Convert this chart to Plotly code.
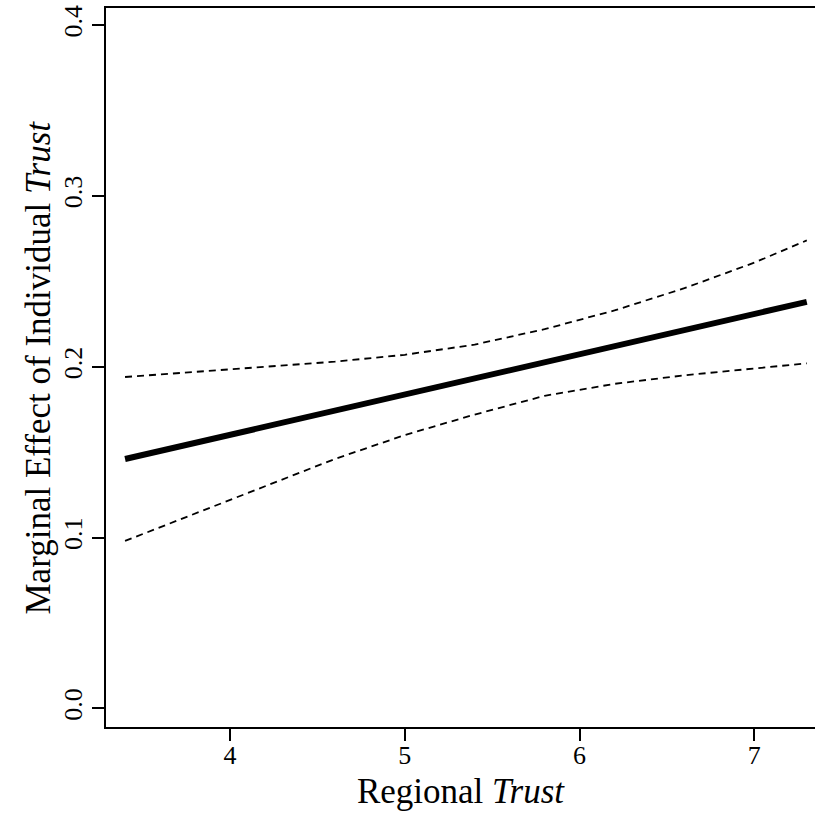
import plotly.graph_objects as go

# Data
regional_trust = [3.4, 3.8, 4.2, 4.6, 5.0, 5.4, 5.8, 6.2, 6.6, 7.0, 7.3]
marginal_effect = [0.146, 0.1554, 0.1648, 0.1743, 0.1837, 0.1932, 0.2026, 0.2120, 0.2214, 0.2309, 0.238]
upper_ci = [0.194, 0.197, 0.200, 0.203, 0.207, 0.213, 0.222, 0.233, 0.246, 0.261, 0.274]
lower_ci = [0.098, 0.114, 0.130, 0.146, 0.160, 0.172, 0.183, 0.190, 0.195, 0.199, 0.202]

x_ticks = [4, 5, 6, 7]
y_ticks = [0.0, 0.1, 0.2, 0.3, 0.4]
y_tick_labels = ["0.0", "0.1", "0.2", "0.3", "0.4"]

x_title = "Regional <i>Trust</i>"
y_title = "Marginal Effect of Individual <i>Trust</i>"

FONT = "Liberation Serif, Times New Roman, serif"

fig = go.Figure()
fig.add_trace(go.Scatter(x=regional_trust, y=upper_ci, mode="lines",
                         line=dict(color="black", width=1.8, dash="7px,5px"),
                         showlegend=False, hoverinfo="skip"))
fig.add_trace(go.Scatter(x=regional_trust, y=lower_ci, mode="lines",
                         line=dict(color="black", width=1.8, dash="7px,5px"),
                         showlegend=False, hoverinfo="skip"))
fig.add_trace(go.Scatter(x=regional_trust, y=marginal_effect, mode="lines",
                         line=dict(color="black", width=6),
                         showlegend=False, hoverinfo="skip"))

fig.update_layout(
    width=815, height=821, autosize=False,
    margin=dict(l=106, r=0, t=8, b=94, pad=0),
    paper_bgcolor="white", plot_bgcolor="white",
    font=dict(family=FONT, color="black", size=26),
    xaxis=dict(
        range=[3.291, 7.347], tickvals=x_ticks, ticktext=[str(v) for v in x_ticks],
        showgrid=False, zeroline=False, showline=True, linecolor="black", linewidth=2,
        mirror=True, ticks="outside", ticklen=12, tickwidth=2, tickcolor="black",
        tickfont=dict(family=FONT, size=26), ticklabelstandoff=-8,
        title=dict(text=x_title, font=dict(family=FONT, size=35), standoff=9),
    ),
    yaxis=dict(
        range=[-0.01095, 0.4101], tickvals=y_ticks, ticktext=y_tick_labels,
        showgrid=False, zeroline=False, showline=True, linecolor="black", linewidth=2,
        ticks="outside", ticklen=12, tickwidth=2, tickcolor="black", tickangle=-90,
        tickfont=dict(family=FONT, size=26),
    ),
    annotations=[dict(
        text=y_title, textangle=-90, showarrow=False,
        xref="paper", yref="paper", x=-0.0959, y=0.5,
        xanchor="center", yanchor="middle",
        font=dict(family=FONT, size=35, color="black"),
    )],
)

fig.write_html(
    "out.html",
    config={"displayModeBar": False},
    post_script="document.body.style.margin='0px';document.body.style.overflow='hidden';",
)
